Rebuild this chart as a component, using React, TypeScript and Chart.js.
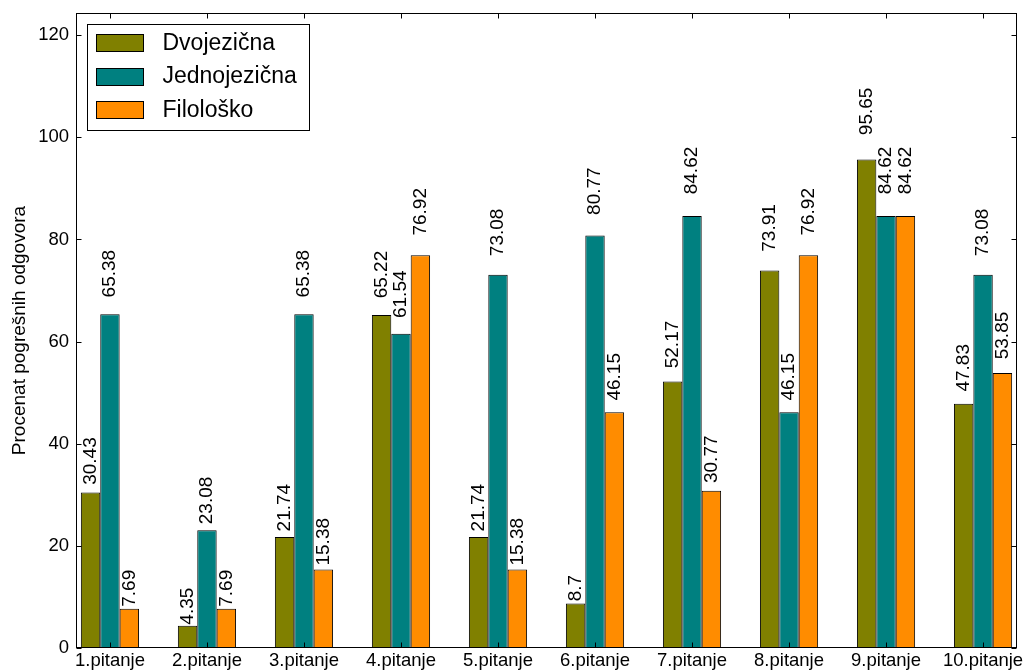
import React, { useEffect, useRef } from 'react';
import { Chart, registerables } from 'chart.js';

Chart.register(...registerables);

const categories = ['1.pitanje', '2.pitanje', '3.pitanje', '4.pitanje', '5.pitanje', '6.pitanje', '7.pitanje', '8.pitanje', '9.pitanje', '10.pitanje'];
const seriesNames = ['Dvojezična', 'Jednojezična', 'Filološko'];
const dvojezicna = [30.43, 4.35, 21.74, 65.22, 21.74, 8.7, 52.17, 73.91, 95.65, 47.83];
const jednojezicna = [65.38, 23.08, 65.38, 61.54, 73.08, 80.77, 84.62, 46.15, 84.62, 73.08];
const filolosko = [7.69, 7.69, 15.38, 76.92, 15.38, 46.15, 30.77, 76.92, 84.62, 53.85];
const yTickValues = [0, 20, 40, 60, 80, 100, 120];
const yMax = 124.35;
const yAxisTitle = 'Procenat pogrešnih odgovora';
const seriesColors = ['#808000', '#008080', '#FF8C00'];

const FONT = "'Liberation Sans', Arial, Helvetica, sans-serif";

export default function App() {
  const ref = useRef<HTMLCanvasElement>(null);

  useEffect(() => {
    const canvas = ref.current;
    if (!canvas) return;
    const series = [dvojezicna, jednojezicna, filolosko];

    const decorPlugin = {
      id: 'decor',
      afterDatasetsDraw(chart: any) {
        const { ctx, chartArea: a, scales } = chart;
        const xs = scales.x;
        const ys = scales.y;
        ctx.save();
        // value labels
        ctx.fillStyle = '#000';
        ctx.font = `19px ${FONT}`;
        ctx.textAlign = 'left';
        ctx.textBaseline = 'middle';
        chart.data.datasets.forEach((ds: any, di: number) => {
          const meta = chart.getDatasetMeta(di);
          meta.data.forEach((bar: any, i: number) => {
            const v = ds.data[i].y;
            const py = ys.getPixelForValue(v * 1.05);
            ctx.save();
            ctx.translate(bar.x, py);
            ctx.rotate(-Math.PI / 2);
            ctx.fillText(String(v), 0, 0);
            ctx.restore();
          });
        });
        // frame
        const L = Math.round(a.left) + 0.5;
        const R = Math.round(a.right) - 0.5;
        const T = Math.round(a.top) + 0.5;
        const B = Math.round(a.bottom) - 0.5;
        ctx.strokeStyle = '#000';
        ctx.lineWidth = 1;
        ctx.strokeRect(L, T, R - L, B - T);
        const tl = 5;
        ctx.beginPath();
        categories.forEach((_, i) => {
          const x = Math.round(xs.getPixelForValue(i)) + 0.5;
          ctx.moveTo(x, B);
          ctx.lineTo(x, B - tl);
          ctx.moveTo(x, T);
          ctx.lineTo(x, T + tl);
        });
        yTickValues.forEach((v) => {
          const y = Math.round(ys.getPixelForValue(v)) + 0.5;
          ctx.moveTo(L, y);
          ctx.lineTo(L + tl, y);
          ctx.moveTo(R, y);
          ctx.lineTo(R - tl, y);
        });
        ctx.stroke();
        ctx.restore();
      },
      afterDraw(chart: any) {
        const { ctx, chartArea: a } = chart;
        ctx.save();
        const bx = Math.round(a.left) + 11.5;
        const by = Math.round(a.top) + 11.5;
        const bw = 222;
        const bh = 106;
        ctx.fillStyle = '#fff';
        ctx.fillRect(bx, by, bw, bh);
        ctx.strokeStyle = '#000';
        ctx.lineWidth = 1;
        ctx.strokeRect(bx, by, bw, bh);
        ctx.font = `23px ${FONT}`;
        ctx.textAlign = 'left';
        ctx.textBaseline = 'middle';
        chart.data.datasets.forEach((ds: any, di: number) => {
          const cy = by + 18 + di * 33.5;
          const px = bx + 9;
          const py = Math.round(cy - 8.5) + 0.5;
          ctx.fillStyle = ds.backgroundColor;
          ctx.fillRect(px, py, 47, 17);
          ctx.strokeStyle = '#000';
          ctx.strokeRect(px, py, 47, 17);
          ctx.fillStyle = '#000';
          ctx.fillText(ds.label, bx + 75, cy + 1);
        });
        ctx.restore();
      },
    };

    const chart = new Chart(canvas, {
      type: 'bar',
      data: {
        datasets: series.map((vals, si) => ({
          label: seriesNames[si],
          data: vals.map((v, i) => ({ x: i, y: v })),
          backgroundColor: seriesColors[si],
          borderColor: '#000',
          borderWidth: 1,
          categoryPercentage: 0.6,
          barPercentage: 1.0,
        })),
      },
      options: {
        responsive: false,
        animation: false,
        devicePixelRatio: 1,
        layout: { padding: { left: 0, top: 13, right: 11, bottom: 0 } },
        plugins: {
          legend: { display: false },
          tooltip: { enabled: false },
        },
        scales: {
          x: {
            type: 'linear',
            min: -0.35,
            max: 9.35,
            offset: false,
            grid: { display: false, drawTicks: false },
            border: { display: false },
            afterBuildTicks: (scale: any) => {
              scale.ticks = categories.map((_, i) => ({ value: i }));
            },
            afterFit: (scale: any) => {
              scale.height = 23;
              scale.paddingLeft = 0;
              scale.paddingRight = 0;
            },
            ticks: {
              autoSkip: false,
              maxRotation: 0,
              minRotation: 0,
              padding: 2,
              color: '#000',
              font: { family: FONT, size: 18.5 },
              callback: (value: any) => categories[Math.round(Number(value))] ?? '',
            },
          },
          y: {
            type: 'linear',
            min: 0,
            max: yMax,
            grid: { display: false, drawTicks: false },
            border: { display: false },
            afterBuildTicks: (scale: any) => {
              scale.ticks = yTickValues.map((v) => ({ value: v }));
            },
            afterFit: (scale: any) => {
              scale.width = 76;
              scale.paddingTop = 0;
              scale.paddingBottom = 0;
            },
            ticks: {
              includeBounds: false,
              padding: 7,
              color: '#000',
              font: { family: FONT, size: 18.5 },
              callback: (value: any) => String(value),
            },
            title: {
              display: true,
              text: yAxisTitle,
              color: '#000',
              font: { family: FONT, size: 19 },
              padding: { top: 8, bottom: 0 },
            },
          },
        },
      },
      plugins: [decorPlugin],
    } as any);

    return () => chart.destroy();
  }, []);

  return (
    <div style={{ position: 'fixed', left: 0, top: 0, width: 1028, height: 671, background: '#fff' }}>
      <canvas ref={ref} width={1028} height={671} style={{ display: 'block', width: 1028, height: 671 }} />
    </div>
  );
}
